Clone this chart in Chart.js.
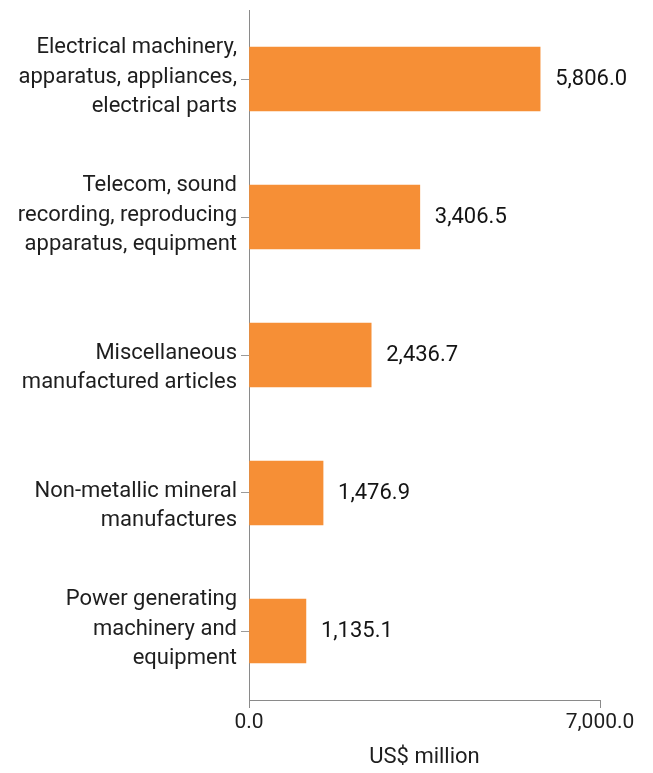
<!DOCTYPE html>
<html>
<head>
<meta charset="utf-8">
<script src="https://cdn.jsdelivr.net/npm/chart.js@4/dist/chart.umd.min.js"></script>
<style>
  html, body { margin: 0; padding: 0; background: #ffffff; }
  #wrap { width: 653px; height: 773px; }
</style>
</head>
<body>
<div id="wrap"><canvas id="c" width="653" height="773"></canvas></div>
<script>
// Product groups (multi-line labels; a leading blank line keeps the first line level with the bar)
const categories = [
  ["Electrical machinery,", "apparatus, appliances,", "electrical parts"],
  ["Telecom, sound", "recording, reproducing", "apparatus, equipment"],
  ["", "Miscellaneous", "manufactured articles"],
  ["", "Non-metallic mineral", "manufactures"],
  ["Power generating", "machinery and", "equipment"]
];
const values = [5806.0, 3406.5, 2436.7, 1476.9, 1135.1];
const axisMin = 0;
const axisMax = 7000;
const axisTitle = "US$ million";

const fmt = v => v.toLocaleString("en-US", { minimumFractionDigits: 1, maximumFractionDigits: 1 });

// Writes each bar's value just past its end
const valueLabels = {
  id: "valueLabels",
  afterDatasetsDraw(chart) {
    const ctx = chart.ctx;
    const meta = chart.getDatasetMeta(0);
    ctx.save();
    ctx.font = "22px Roboto";
    ctx.fillStyle = "#141414";
    ctx.textAlign = "left";
    ctx.textBaseline = "middle";
    meta.data.forEach((bar, i) => {
      ctx.fillText(fmt(values[i]), bar.x + 15, bar.y);
    });
    ctx.restore();
  }
};

new Chart(document.getElementById("c"), {
  type: "bar",
  data: {
    labels: categories,
    datasets: [{
      data: values,
      backgroundColor: "#F68F36",
      borderWidth: 0,
      barThickness: 64
    }]
  },
  options: {
    indexAxis: "y",
    responsive: false,
    animation: false,
    devicePixelRatio: 1,
    layout: { padding: { top: 10, right: 53, left: 0, bottom: 0 } },
    plugins: {
      legend: { display: false },
      tooltip: { enabled: false }
    },
    scales: {
      y: {
        afterFit(scale) {
          scale.width = 249;
          scale.paddingTop = 0;
          scale.paddingBottom = 0;
        },
        border: { display: true, color: "#8a8a8a", width: 1 },
        grid: { display: true, offset: false, drawOnChartArea: false, tickLength: 8, color: "#9a9a9a" },
        ticks: {
          color: "#1e1e1e",
          font: { family: "Roboto", size: 22, lineHeight: 1.36 },
          padding: 4,
          labelOffset: -2,
          crossAlign: "near"
        }
      },
      x: {
        min: axisMin,
        max: axisMax,
        afterFit(scale) { scale.height = 73; },
        afterBuildTicks(scale) {
          scale.ticks = [{ value: axisMin }, { value: axisMax }];
        },
        border: { display: true, color: "#8a8a8a", width: 1 },
        grid: { display: true, drawOnChartArea: false, tickLength: 8, color: "#8a8a8a" },
        ticks: {
          color: "#1e1e1e",
          font: { family: "Roboto", size: 21 },
          padding: 2,
          maxRotation: 0,
          autoSkip: false,
          callback: v => fmt(v)
        },
        title: {
          display: true,
          text: axisTitle,
          color: "#1e1e1e",
          font: { family: "Roboto", size: 22 },
          padding: { top: 2, bottom: 2 }
        }
      }
    }
  },
  plugins: [valueLabels]
});
</script>
</body>
</html>
